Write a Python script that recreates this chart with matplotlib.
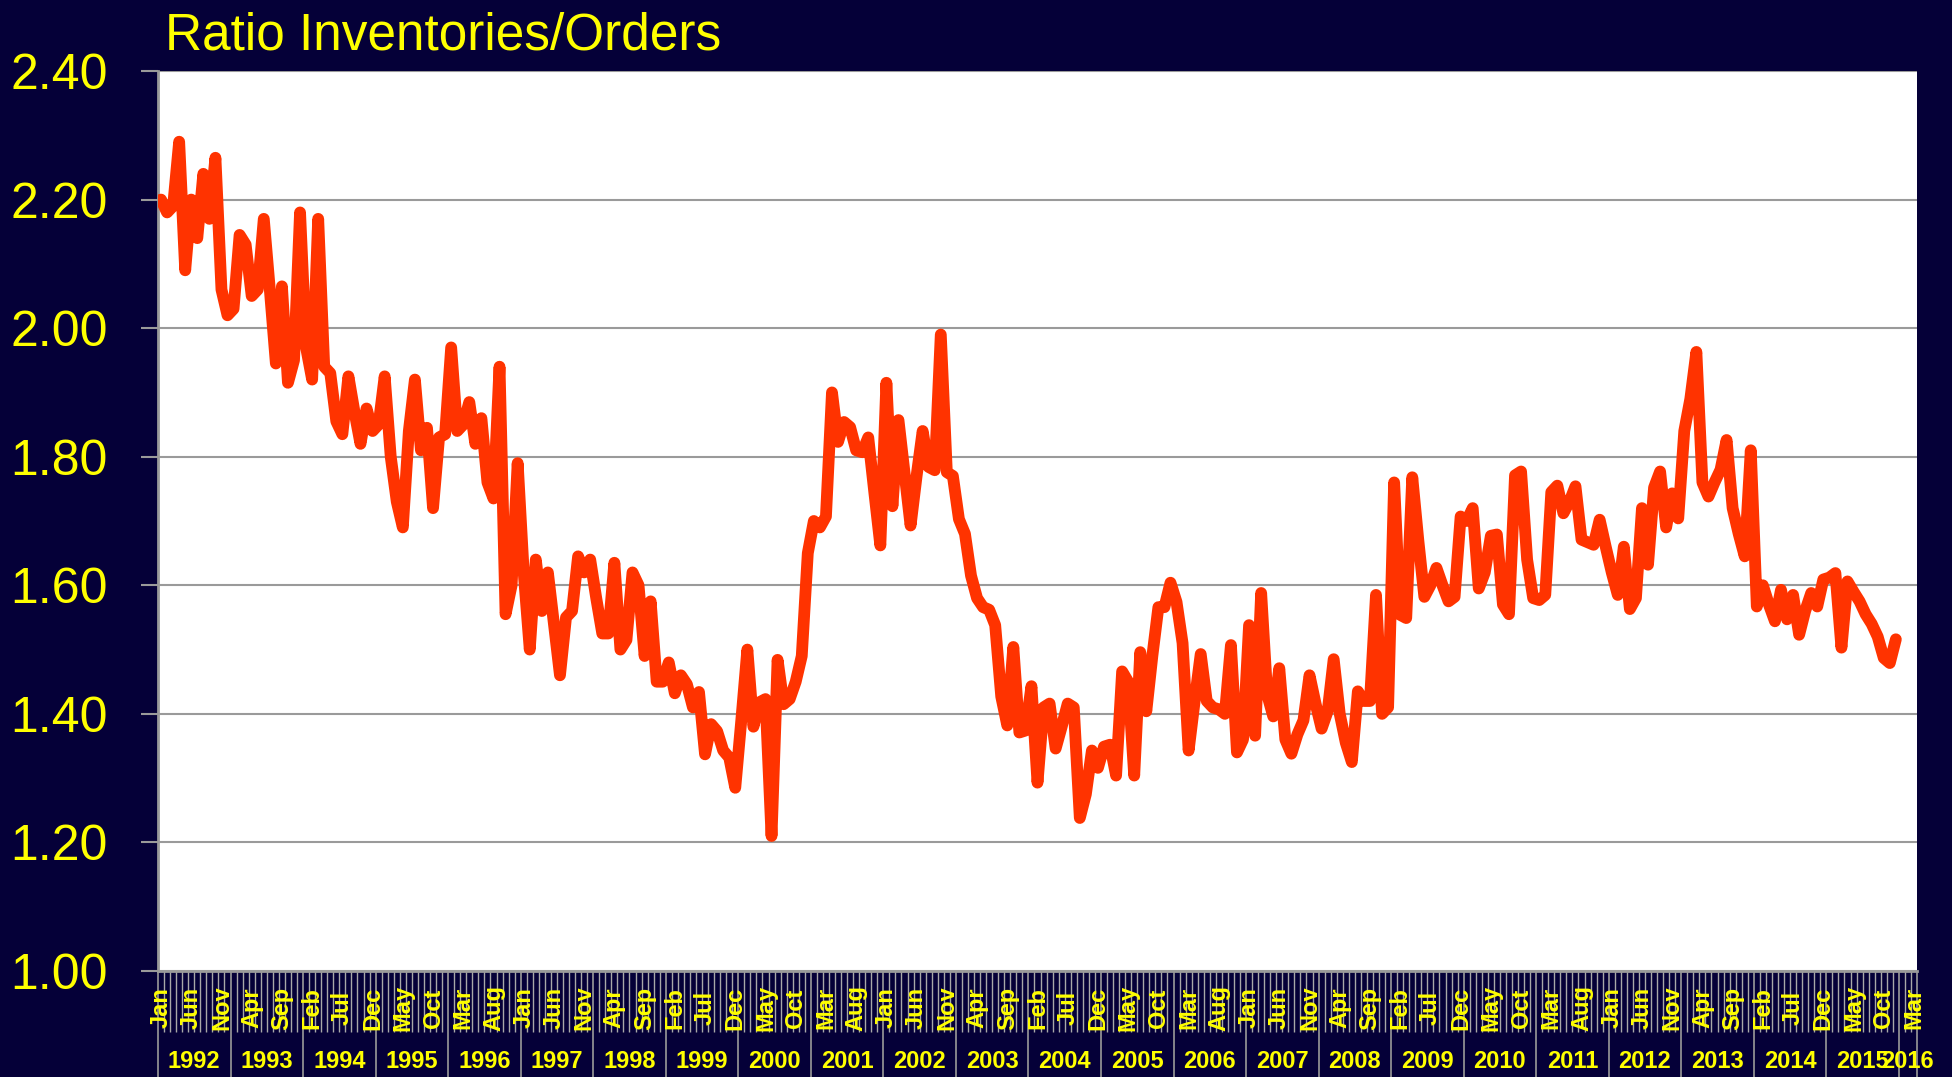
import numpy as np
import pandas as pd
from matplotlib import pyplot as plt
from matplotlib import transforms

plt.rcParams['font.family'] = ['Liberation Sans', 'DejaVu Sans']

# monthly ratio, Jan 1992 - Dec 2015
y1992 = [2.20, 2.18, 2.19, 2.29, 2.09, 2.20, 2.14, 2.24, 2.17, 2.265, 2.06, 2.02]
y1993 = [2.03, 2.145, 2.13, 2.05, 2.06, 2.17, 2.06, 1.945, 2.065, 1.915, 1.95, 2.18]
y1994 = [1.97, 1.92, 2.17, 1.94, 1.93, 1.855, 1.835, 1.925, 1.87, 1.82, 1.875, 1.84]
y1995 = [1.85, 1.925, 1.80, 1.73, 1.69, 1.84, 1.92, 1.81, 1.845, 1.72, 1.83, 1.835]
y1996 = [1.97, 1.84, 1.85, 1.885, 1.82, 1.86, 1.76, 1.735, 1.94, 1.555, 1.60, 1.79]
y1997 = [1.62, 1.50, 1.64, 1.56, 1.62, 1.54, 1.46, 1.55, 1.56, 1.645, 1.62, 1.64]
y1998 = [1.58, 1.525, 1.525, 1.635, 1.50, 1.515, 1.62, 1.60, 1.49, 1.575, 1.45, 1.45]
y1999 = [1.48, 1.432, 1.46, 1.446, 1.41, 1.434, 1.337, 1.384, 1.373, 1.343, 1.332, 1.285]
y2000 = [1.39, 1.50, 1.38, 1.418, 1.423, 1.21, 1.484, 1.415, 1.423, 1.45, 1.49, 1.65]
y2001 = [1.70, 1.69, 1.707, 1.90, 1.823, 1.854, 1.846, 1.81, 1.807, 1.83, 1.745, 1.662]
y2002 = [1.915, 1.723, 1.857, 1.775, 1.693, 1.77, 1.84, 1.784, 1.779, 1.99, 1.776, 1.77]
y2003 = [1.703, 1.68, 1.615, 1.58, 1.566, 1.562, 1.538, 1.427, 1.382, 1.504, 1.371, 1.374]
y2004 = [1.443, 1.293, 1.41, 1.416, 1.346, 1.38, 1.416, 1.41, 1.238, 1.275, 1.343, 1.316]
y2005 = [1.349, 1.352, 1.304, 1.466, 1.45, 1.304, 1.496, 1.404, 1.49, 1.566, 1.566, 1.604]
y2006 = [1.574, 1.51, 1.343, 1.42, 1.493, 1.42, 1.41, 1.407, 1.40, 1.507, 1.34, 1.36]
y2007 = [1.538, 1.366, 1.588, 1.43, 1.396, 1.471, 1.36, 1.338, 1.368, 1.39, 1.46, 1.416]
y2008 = [1.377, 1.404, 1.485, 1.40, 1.355, 1.325, 1.435, 1.42, 1.42, 1.585, 1.40, 1.41]
y2009 = [1.76, 1.554, 1.549, 1.768, 1.67, 1.582, 1.60, 1.627, 1.60, 1.575, 1.582, 1.707]
y2010 = [1.70, 1.72, 1.595, 1.62, 1.677, 1.679, 1.57, 1.555, 1.771, 1.777, 1.64, 1.58]
y2011 = [1.577, 1.585, 1.745, 1.755, 1.712, 1.73, 1.754, 1.671, 1.667, 1.663, 1.702, 1.66]
y2012 = [1.62, 1.585, 1.66, 1.563, 1.58, 1.72, 1.632, 1.752, 1.777, 1.69, 1.743, 1.704]
y2013 = [1.84, 1.89, 1.963, 1.76, 1.738, 1.76, 1.78, 1.826, 1.72, 1.68, 1.645, 1.81]
y2014 = [1.567, 1.60, 1.57, 1.544, 1.593, 1.547, 1.585, 1.523, 1.56, 1.588, 1.567, 1.609]
y2015 = [1.612, 1.619, 1.503, 1.606, 1.59, 1.575, 1.555, 1.54, 1.52, 1.487, 1.479, 1.516]

ratio = (y1992 + y1993 + y1994 + y1995 + y1996 + y1997 + y1998 + y1999 + y2000 + y2001
         + y2002 + y2003 + y2004 + y2005 + y2006 + y2007 + y2008 + y2009 + y2010 + y2011
         + y2012 + y2013 + y2014 + y2015)

# category axis runs Jan 1992 - Mar 2016
months = pd.date_range('1992-01-01', '2016-03-01', freq='MS')
month_labels = [m.strftime('%b') for m in months]
years = sorted(set(months.year))

yticks = [1.00, 1.20, 1.40, 1.60, 1.80, 2.00, 2.20, 2.40]

bg = '#050038'
yellow = '#FFFF00'
grey = '#9A9A9A'

fig = plt.figure(figsize=(19.52, 10.77), dpi=100, facecolor=bg)
ax = fig.add_axes([158 / 1952, 106 / 1077, 1759 / 1952, 900 / 1077])
ax.set_facecolor('white')

ax.plot(np.arange(len(ratio)), ratio, color='#FF3300', lw=8.5,
        solid_joinstyle='round', solid_capstyle='round', zorder=3)

ax.set_xlim(-0.5, len(months) - 0.5)
ax.set_ylim(1.0, 2.4)

# y axis
ax.set_yticks(yticks)
ax.set_yticklabels(['%.2f' % v for v in yticks], color=yellow, fontsize=36)
ax.tick_params(axis='y', direction='out', length=12, width=1.5, color=grey, pad=24)
ax.grid(axis='y', color=grey, lw=1.5)
ax.set_axisbelow(True)

for side in ['top', 'right']:
    ax.spines[side].set_visible(False)
for side in ['left', 'bottom']:
    ax.spines[side].set_color(grey)
    ax.spines[side].set_linewidth(2)

# x axis: month ticks between categories, longer ticks between years
n = len(months)
year_edges = [i - 0.5 for i in range(0, n, 12)] + [n - 0.5]
ax.set_xticks(year_edges)
ax.set_xticks([i - 0.5 for i in range(n + 1)], minor=True)
ax.set_xticklabels([])
ax.tick_params(axis='x', which='major', direction='out', length=76, width=1.2, color=grey)
ax.tick_params(axis='x', which='minor', direction='out', length=44, width=1.0, color='#A8A8A8')

trans = transforms.blended_transform_factory(ax.transData, fig.transFigure)
for i in range(0, n, 5):
    ax.text(i, 69 / 1077, month_labels[i], transform=trans, rotation=90,
            ha='center', va='center', color=yellow, fontsize=17, fontweight='bold')

for yr in years:
    idx = np.where(months.year == yr)[0]
    ax.text((idx[0] + idx[-1]) / 2, 16 / 1077, str(yr), transform=trans,
            ha='center', va='center', color=yellow, fontsize=17, fontweight='bold')

fig.text(165 / 1952, 1028 / 1077, 'Ratio Inventories/Orders', color=yellow,
         fontsize=37, va='baseline', ha='left')

fig.savefig('out.png', dpi=100, facecolor=bg)
